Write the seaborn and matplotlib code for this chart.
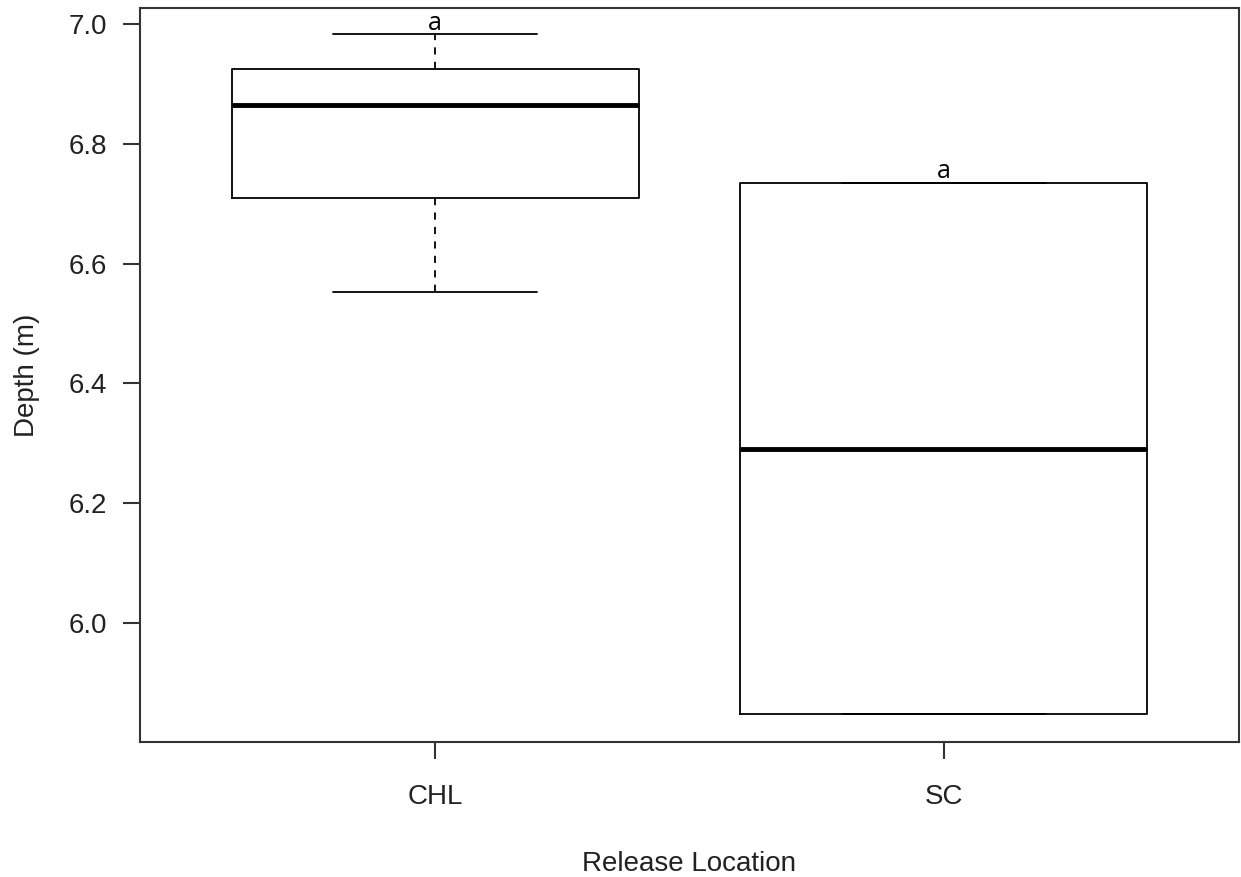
import matplotlib
matplotlib.use("Agg")
import matplotlib.pyplot as plt
import seaborn as sns
import pandas as pd

# Values (five-number summaries per location)
locations = ["CHL", "SC"]
chl_values = [6.553, 6.709, 6.865, 6.925, 6.983]
sc_values = [5.848, 5.848, 6.290, 6.735, 6.735]
letters = ["a", "a"]
letter_y = [6.983, 6.735]
y_ticks = [6.0, 6.2, 6.4, 6.6, 6.8, 7.0]

df = pd.DataFrame({
    "loc": ["CHL"] * len(chl_values) + ["SC"] * len(sc_values),
    "depth": chl_values + sc_values,
})

sns.set_style("white")
plt.rcParams["font.family"] = ["Liberation Sans", "DejaVu Sans"]

W, H = 1241, 877
fig = plt.figure(figsize=(W / 100, H / 100), dpi=100)
ax = fig.add_axes([140 / W, 1 - 742 / H, (1239 - 140) / W, (742 - 8) / H])

lw = 1.3
sns.boxplot(
    data=df, x="loc", y="depth", order=locations, ax=ax,
    width=0.8, whis=(0, 100), fill=False, color="black", linewidth=lw,
    boxprops=dict(color="black", linewidth=lw),
    whiskerprops=dict(color="black", linestyle=(0, (4, 4)), linewidth=lw),
    capprops=dict(color="black", linewidth=lw),
    medianprops=dict(color="black", linewidth=3.5),
    showfliers=False,
)
# caps half box width like R
for line in ax.lines:
    xd = line.get_xdata()
    yd = line.get_ydata()
    if len(xd) == 2 and yd[0] == yd[1] and 0 < abs(xd[1] - xd[0]) < 0.79:
        c = (xd[0] + xd[1]) / 2
        line.set_xdata([c - 0.2, c + 0.2])

ax.set_xlim(-0.58, 1.58)
ax.set_ylim(5.8015, 7.0265)
ax.set_yticks(y_ticks)
ax.set_yticklabels([f"{v:.1f}" for v in y_ticks])

for i, (t, yv) in enumerate(zip(letters, letter_y)):
    ax.text(i, yv + 0.007, t, ha="center", va="baseline", fontsize=18,
            family=["Open Sans", "DejaVu Sans"], color="black")

for s in ax.spines.values():
    s.set_visible(True)
    s.set_color("#333333")
    s.set_linewidth(1.5)
ax.tick_params(axis="both", which="both", direction="out", length=12, width=1.5,
               color="#333333", labelsize=20, labelcolor="#222222",
               left=True, bottom=True)
ax.tick_params(axis="y", pad=12)
ax.tick_params(axis="x", pad=18)
ax.set_xlabel("Release Location", fontsize=20, color="#222222", labelpad=30)
ax.set_ylabel("Depth (m)", fontsize=20, color="#222222", labelpad=20)

fig.savefig("out.png", dpi=100)
